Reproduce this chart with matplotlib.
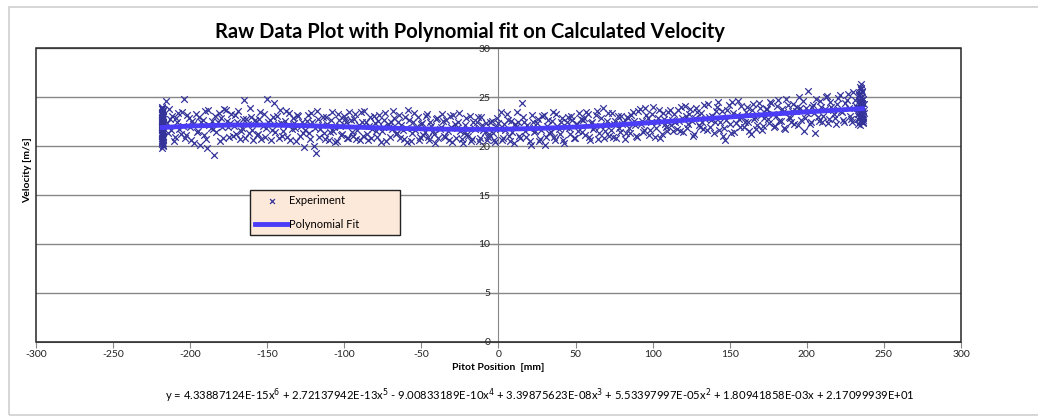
import matplotlib
matplotlib.use("Agg")
import matplotlib.pyplot as plt
from matplotlib.patches import Rectangle

plt.rcParams['font.family'] = ['Lato', 'DejaVu Sans']
plt.rcParams['axes.unicode_minus'] = False

# measured points along the traverse, first pass (Pitot position mm, velocity m/s)
pos = [-216, -214.5, -213, -211.5, -210, -208.5, -207, -205.5, -204, -202.5,
       -201, -199.5, -198, -196.5, -195, -193.5, -192, -190.5, -189, -187.5,
       -186, -184.5, -183, -181.5, -180, -178.5, -177, -175.5, -174, -172.5,
       -171, -169.5, -168, -166.5, -165, -163.5, -162, -160.5, -159, -157.5,
       -156, -154.5, -153, -151.5, -150, -148.5, -147, -145.5, -144, -142.5,
       -141, -139.5, -138, -136.5, -135, -133.5, -132, -130.5, -129, -127.5,
       -126, -124.5, -123, -121.5, -120, -118.5, -117, -115.5, -114, -112.5,
       -111, -109.5, -108, -106.5, -105, -103.5, -102, -100.5, -99, -97.5,
       -96, -94.5, -93, -91.5, -90, -88.5, -87, -85.5, -84, -82.5,
       -81, -79.5, -78, -76.5, -75, -73.5, -72, -70.5, -69, -67.5,
       -66, -64.5, -63, -61.5, -60, -58.5, -57, -55.5, -54, -52.5,
       -51, -49.5, -48, -46.5, -45, -43.5, -42, -40.5, -39, -37.5,
       -36, -34.5, -33, -31.5, -30, -28.5, -27, -25.5, -24, -22.5,
       -21, -19.5, -18, -16.5, -15, -13.5, -12, -10.5, -9, -7.5,
       -6, -4.5, -3, -1.5, 0, 1.5, 3, 4.5, 6, 7.5,
       9, 10.5, 12, 13.5, 15, 16.5, 18, 19.5, 21, 22.5,
       24, 25.5, 27, 28.5, 30, 31.5, 33, 34.5, 36, 37.5,
       39, 40.5, 42, 43.5, 45, 46.5, 48, 49.5, 51, 52.5,
       54, 55.5, 57, 58.5, 60, 61.5, 63, 64.5, 66, 67.5,
       69, 70.5, 72, 73.5, 75, 76.5, 78, 79.5, 81, 82.5,
       84, 85.5, 87, 88.5, 90, 91.5, 93, 94.5, 96, 97.5,
       99, 100.5, 102, 103.5, 105, 106.5, 108, 109.5, 111, 112.5,
       114, 115.5, 117, 118.5, 120, 121.5, 123, 124.5, 126, 127.5,
       129, 130.5, 132, 133.5, 135, 136.5, 138, 139.5, 141, 142.5,
       144, 145.5, 147, 148.5, 150, 151.5, 153, 154.5, 156, 157.5,
       159, 160.5, 162, 163.5, 165, 166.5, 168, 169.5, 171, 172.5,
       174, 175.5, 177, 178.5, 180, 181.5, 183, 184.5, 186, 187.5,
       189, 190.5, 192, 193.5, 195, 196.5, 198, 199.5, 201, 202.5,
       204, 205.5, 207, 208.5, 210, 211.5, 213, 214.5, 216, 217.5,
       219, 220.5, 222, 223.5, 225, 226.5, 228, 229.5, 231, 232.5]
vel = [24.6, 21.3, 22.8, 23.1, 20.9, 22.4, 21.7, 23.5, 24.8, 21.1,
       22.9, 20.6, 22.2, 23.3, 21.5, 20.1, 22.7, 23.6, 19.8, 22.1,
       22.6, 19.1, 21.4, 23.4, 22.9, 20.8, 23.7, 21.9, 22.3, 21.0,
       23.2, 22.5, 20.7, 21.8, 24.7, 22.8, 21.3, 23.0, 20.6, 22.4,
       21.2, 23.5, 22.0, 20.9, 24.8, 22.7, 21.6, 24.4, 23.1, 20.8,
       22.3, 21.5, 23.6, 22.1, 20.6, 22.9, 21.8, 23.2, 21.0, 22.5,
       19.9, 22.6, 21.3, 23.4, 20.0, 19.3, 22.8, 21.7, 23.0, 20.7,
       22.2, 21.4, 23.5, 21.9, 20.5, 22.7, 21.1, 23.1, 22.4, 20.8,
       22.7, 21.0, 23.3, 21.6, 20.6, 22.4, 23.6, 21.2, 22.0, 20.8,
       23.1, 21.5, 22.6, 20.4, 21.9, 23.4, 22.2, 20.9, 21.7, 22.9,
       21.3, 23.2, 22.1, 20.7, 21.8, 23.7, 20.5, 22.5, 21.6, 23.0,
       20.9, 22.3, 21.4, 23.3, 20.6, 22.0, 21.2, 22.8, 20.8, 21.9,
       22.6, 20.9, 21.5, 23.1, 20.4, 22.2, 21.8, 23.4, 20.7, 21.3,
       22.9, 21.0, 20.5, 22.4, 21.7, 23.0, 20.8, 22.1, 21.4, 20.6,
       21.2, 22.6, 20.6, 21.9, 22.3, 23.5, 20.8, 21.6, 22.7, 20.5,
       21.4, 22.2, 23.5, 21.0, 24.4, 22.5, 20.9, 21.8, 20.1, 22.4,
       21.5, 22.8, 20.7, 23.1, 20.1, 22.0, 21.3, 22.6, 20.9, 23.3,
       21.7, 22.4, 20.6, 21.9, 23.0, 21.2, 22.7, 20.8, 22.2, 23.4,
       21.4, 22.9, 23.5, 20.9, 22.3, 21.7, 23.2, 20.7, 22.0, 23.9,
       21.5, 22.6, 21.0, 23.4, 22.2, 20.8, 21.8, 23.1, 22.5, 21.3,
       22.9, 21.3, 23.5, 22.1, 20.9, 23.8, 22.6, 21.6, 23.2, 21.1,
       22.4, 24.0, 21.8, 22.9, 20.8, 23.4, 22.2, 21.5, 23.7, 22.7,
       23.3, 21.7, 22.6, 24.0, 21.4, 23.1, 22.2, 23.8, 21.0, 22.9,
       23.5, 21.9, 22.4, 24.2, 21.6, 23.0, 22.7, 21.3, 23.6, 24.5,
       22.5, 21.0, 20.6, 23.7, 22.2, 24.5, 21.4, 23.2, 22.8, 24.1,
       21.9, 23.5, 22.4, 21.2, 24.3, 23.0, 22.1, 23.9, 21.6, 22.9,
       23.8, 22.3, 24.4, 21.9, 23.1, 24.7, 22.6, 23.5, 21.7, 24.2,
       22.9, 23.6, 22.2, 24.0, 25.0, 22.7, 21.5, 23.9, 25.6, 22.4,
       24.2, 21.3, 23.0, 24.6, 22.5, 23.8, 25.1, 22.8, 24.0, 23.3,
       22.2, 24.9, 23.6, 22.7, 24.4, 25.3, 23.1, 22.4, 24.7, 23.9]

# second pass (return traverse)
pos2 = [-215.25, -213.75, -212.25, -210.75, -209.25, -207.75, -206.25, -204.75, -203.25, -201.75,
        -200.25, -198.75, -197.25, -195.75, -194.25, -192.75, -191.25, -189.75, -188.25, -186.75,
        -185.25, -183.75, -182.25, -180.75, -179.25, -177.75, -176.25, -174.75, -173.25, -171.75,
        -170.25, -168.75, -167.25, -165.75, -164.25, -162.75, -161.25, -159.75, -158.25, -156.75,
        -155.25, -153.75, -152.25, -150.75, -149.25, -147.75, -146.25, -144.75, -143.25, -141.75,
        -140.25, -138.75, -137.25, -135.75, -134.25, -132.75, -131.25, -129.75, -128.25, -126.75,
        -125.25, -123.75, -122.25, -120.75, -119.25, -117.75, -116.25, -114.75, -113.25, -111.75,
        -110.25, -108.75, -107.25, -105.75, -104.25, -102.75, -101.25, -99.75, -98.25, -96.75,
        -95.25, -93.75, -92.25, -90.75, -89.25, -87.75, -86.25, -84.75, -83.25, -81.75,
        -80.25, -78.75, -77.25, -75.75, -74.25, -72.75, -71.25, -69.75, -68.25, -66.75,
        -65.25, -63.75, -62.25, -60.75, -59.25, -57.75, -56.25, -54.75, -53.25, -51.75,
        -50.25, -48.75, -47.25, -45.75, -44.25, -42.75, -41.25, -39.75, -38.25, -36.75,
        -35.25, -33.75, -32.25, -30.75, -29.25, -27.75, -26.25, -24.75, -23.25, -21.75,
        -20.25, -18.75, -17.25, -15.75, -14.25, -12.75, -11.25, -9.75, -8.25, -6.75,
        -5.25, -3.75, -2.25, -0.75, 0.75, 2.25, 3.75, 5.25, 6.75, 8.25,
        9.75, 11.25, 12.75, 14.25, 15.75, 17.25, 18.75, 20.25, 21.75, 23.25,
        24.75, 26.25, 27.75, 29.25, 30.75, 32.25, 33.75, 35.25, 36.75, 38.25,
        39.75, 41.25, 42.75, 44.25, 45.75, 47.25, 48.75, 50.25, 51.75, 53.25,
        54.75, 56.25, 57.75, 59.25, 60.75, 62.25, 63.75, 65.25, 66.75, 68.25,
        69.75, 71.25, 72.75, 74.25, 75.75, 77.25, 78.75, 80.25, 81.75, 83.25,
        84.75, 86.25, 87.75, 89.25, 90.75, 92.25, 93.75, 95.25, 96.75, 98.25,
        99.75, 101.25, 102.75, 104.25, 105.75, 107.25, 108.75, 110.25, 111.75, 113.25,
        114.75, 116.25, 117.75, 119.25, 120.75, 122.25, 123.75, 125.25, 126.75, 128.25,
        129.75, 131.25, 132.75, 134.25, 135.75, 137.25, 138.75, 140.25, 141.75, 143.25,
        144.75, 146.25, 147.75, 149.25, 150.75, 152.25, 153.75, 155.25, 156.75, 158.25,
        159.75, 161.25, 162.75, 164.25, 165.75, 167.25, 168.75, 170.25, 171.75, 173.25,
        174.75, 176.25, 177.75, 179.25, 180.75, 182.25, 183.75, 185.25, 186.75, 188.25,
        189.75, 191.25, 192.75, 194.25, 195.75, 197.25, 198.75, 200.25, 201.75, 203.25,
        204.75, 206.25, 207.75, 209.25, 210.75, 212.25, 213.75, 215.25, 216.75, 218.25,
        219.75, 221.25, 222.75, 224.25, 225.75, 227.25, 228.75, 230.25, 231.75, 233.25]
vel2 = [22.3, 23.8, 21.6, 20.5, 22.9, 23.4, 21.2, 22.0, 20.8, 23.2,
        21.9, 22.6, 20.3, 21.4, 23.0, 22.5, 21.1, 20.7, 23.7, 21.8,
        21.7, 23.1, 22.4, 20.5, 21.9, 23.8, 22.6, 20.9, 23.3, 22.0,
        21.2, 23.6, 21.5, 22.8, 20.8, 22.2, 23.9, 21.6, 22.7, 21.1,
        22.8, 20.7, 23.3, 21.8, 22.5, 20.6, 23.0, 21.4, 22.2, 23.7,
        21.0, 22.6, 20.9, 23.4, 21.7, 22.3, 20.5, 23.1, 22.0, 21.3,
        21.6, 23.2, 20.7, 22.5, 21.8, 23.6, 20.9, 22.1, 21.3, 23.0,
        20.6, 22.7, 21.5, 20.4, 23.3, 22.0, 21.2, 22.8, 20.8, 23.5,
        21.4, 22.8, 20.7, 22.1, 23.5, 21.0, 22.5, 20.6, 23.0, 21.7,
        22.3, 20.9, 23.2, 21.5, 22.7, 20.5, 21.9, 22.4, 23.6, 21.2,
        22.4, 20.8, 21.6, 23.0, 20.4, 22.7, 21.3, 23.4, 21.9, 20.6,
        22.2, 21.1, 23.1, 20.9, 22.5, 21.5, 20.3, 22.9, 21.7, 23.3,
        21.0, 22.7, 20.6, 21.9, 23.2, 20.8, 22.4, 21.5, 20.3, 22.1,
        21.2, 23.1, 20.7, 21.8, 22.5, 20.5, 23.0, 21.6, 22.3, 20.9,
        22.5, 21.3, 20.4, 22.9, 21.7, 20.6, 22.2, 23.3, 21.0, 22.6,
        20.3, 21.9, 22.4, 20.8, 23.0, 21.5, 22.1, 20.5, 23.2, 21.4,
        22.3, 20.5, 21.6, 23.2, 20.9, 22.7, 21.4, 23.5, 20.6, 22.0,
        21.2, 22.9, 20.3, 22.5, 21.8, 23.1, 20.8, 22.2, 21.5, 22.8,
        22.7, 21.1, 23.3, 20.6, 22.4, 21.9, 23.6, 21.3, 22.9, 20.8,
        22.1, 23.4, 21.6, 20.9, 22.6, 23.1, 21.4, 22.2, 20.7, 23.0,
        21.8, 23.2, 22.6, 21.0, 23.6, 22.2, 21.4, 23.9, 22.9, 21.6,
        23.3, 20.9, 22.5, 23.7, 21.2, 22.8, 21.9, 23.5, 22.1, 21.5,
        22.4, 23.7, 21.5, 22.9, 24.1, 21.8, 23.3, 22.6, 21.2, 23.9,
        22.1, 23.4, 21.7, 22.8, 24.3, 21.9, 23.1, 22.5, 24.0, 21.6,
        23.6, 21.8, 22.7, 24.2, 21.3, 23.4, 22.3, 24.6, 21.9, 23.0,
        22.5, 24.0, 21.5, 23.7, 22.8, 21.7, 24.4, 23.2, 22.0, 23.8,
        22.8, 24.5, 23.3, 22.0, 24.1, 22.6, 23.8, 21.8, 24.8, 23.0,
        22.4, 24.3, 23.6, 22.1, 23.9, 24.6, 22.9, 23.4, 22.2, 24.0,
        23.4, 24.8, 22.6, 24.0, 23.1, 25.0, 22.3, 24.5, 23.7, 22.9,
        24.3, 25.2, 23.5, 22.5, 24.7, 23.9, 22.8, 25.5, 24.1, 23.3]

# stacked readings at the two ends of the traverse
left_pos = [-218.2, -217.9, -218.0, -218.3, -217.8, -218.1, -218.0, -217.9, -218.2, -218.0,
            -218.1, -217.8, -218.3, -218.0, -217.9, -218.2, -218.1, -218.0, -217.8, -218.2,
            -218.0, -218.1, -217.9, -218.3, -218.0, -218.2, -217.8, -218.1, -218.0, -217.9,
            -217.7, -218.4, -218.0, -217.6, -218.2, -217.9, -218.1, -217.7, -218.3, -218.0,
            -217.8, -218.1, -218.0, -217.9, -218.2, -218.4, -217.7, -218.0, -218.1, -217.9]
left_vel = [19.8, 20.1, 20.4, 20.6, 20.9, 21.1, 21.3, 21.5, 21.7, 21.9,
            22.0, 22.2, 22.4, 22.6, 22.8, 23.0, 23.2, 23.4, 23.6, 23.8,
            24.0, 20.2, 20.7, 21.2, 21.6, 22.1, 22.5, 22.9, 23.3, 23.7,
            20.0, 20.5, 21.0, 21.4, 21.8, 22.3, 22.7, 23.1, 23.5, 23.9,
            20.3, 20.8, 21.3, 21.8, 22.2, 22.6, 23.0, 23.4, 22.0, 21.0]
right_pos = [234.8, 235.6, 236.2, 234.1, 235.0, 236.8, 233.6, 235.3, 236.0, 234.5,
             235.8, 234.0, 236.5, 235.1, 233.9, 235.5, 234.6, 235.2, 236.3, 234.3,
             235.9, 233.5, 236.1, 234.9, 235.4, 234.2, 236.6, 235.7, 234.7, 233.2,
             236.4, 234.4, 235.0, 233.8, 236.9, 235.6, 234.1, 236.0, 235.2, 233.4,
             234.8, 236.7, 235.3, 234.6, 236.2, 233.7, 235.8, 234.9, 236.5, 235.1]
right_vel = [22.1, 22.4, 22.7, 23.0, 23.2, 23.4, 23.6, 23.8, 24.0, 24.2,
             24.4, 24.6, 24.8, 25.0, 25.3, 25.6, 26.0, 26.3, 22.5, 22.9,
             23.3, 23.7, 24.1, 24.5, 24.9, 25.4, 23.1, 23.9, 24.3, 22.8,
             22.3, 22.6, 23.5, 23.9, 24.3, 24.7, 25.1, 25.5, 25.8, 22.2,
             23.0, 23.6, 24.0, 24.4, 24.8, 25.2, 23.3, 24.6, 22.9, 25.9]

# 6th order trend line values
fit_pos = [-218, -200, -175, -150, -125, -100, -75, -50, -25, 0,
           25, 50, 75, 100, 125, 150, 175, 200, 218, 236]
fit_vel = [21.89, 22.04, 22.14, 22.14, 22.07, 21.96, 21.84, 21.75, 21.70, 21.71,
           21.79, 21.94, 22.14, 22.40, 22.67, 22.96, 23.23, 23.48, 23.65, 23.82]

equation = ("y = 4.33887124E-15x$^6$ + 2.72137942E-13x$^5$ - 9.00833189E-10x$^4$ + "
            "3.39875623E-08x$^3$ + 5.53397997E-05x$^2$ + 1.80941858E-03x + 2.17099939E+01")

fig = plt.figure(figsize=(10.38, 4.19), dpi=100)
ax = fig.add_axes([0.0347, 0.1838, 0.8911, 0.7016])

# light grey chart frame
fig.patches.append(Rectangle((9 / 1038, 4 / 419), 1.2, 1 - 11 / 419, transform=fig.transFigure,
                             fill=False, edgecolor='#d0d0d0', lw=1.2))

ax.scatter(pos + pos2 + left_pos + right_pos, vel + vel2 + left_vel + right_vel,
           marker='x', s=22, linewidths=0.9, color='#333399', label='Experiment', zorder=3)
ax.plot(fit_pos, fit_vel, color='#4a3cf7', lw=3.5, label='Polynomial Fit', zorder=4)

ax.set_xlim(-300, 300)
ax.set_ylim(0, 30)
ax.set_xticks(range(-300, 301, 50))
ax.set_yticks(range(0, 31, 5))
ax.yaxis.grid(True, color='#878787', lw=1)
ax.set_axisbelow(True)

# y axis crosses at x = 0 like in Excel
ax.spines['left'].set_position(('data', 0))
ax.spines['left'].set_color('#878787')
ax.spines['right'].set_visible(False)
ax.spines['top'].set_visible(False)
ax.spines['bottom'].set_color('#878787')
ax.add_patch(Rectangle((0, 0), 1, 1, transform=ax.transAxes, fill=False,
                       edgecolor='#262626', lw=1.1, clip_on=False, zorder=5))
ax.tick_params(axis='both', direction='out', length=4, color='#878787',
               labelsize=7.5, labelcolor='#222222', pad=2)

ax.set_xlabel('Pitot Position  [mm]', fontsize=7.5, fontweight='bold', labelpad=3)
fig.text(28 / 1038, 1 - 170 / 419, 'Velocity [m/s]', rotation=90, fontsize=7.5,
         fontweight='bold', ha='center', va='center')
fig.text(470 / 1038, 1 - 32 / 419, 'Raw Data Plot with Polynomial fit on Calculated Velocity',
         fontsize=14.5, fontweight='bold', ha='center', va='center')
fig.text(540 / 1038, 1 - 396 / 419, equation, fontsize=8.1, ha='center', va='center')

leg = ax.legend(loc='upper left', bbox_to_anchor=(250 / 1038, 1 - 237 / 419, 150 / 1038, 47 / 419),
                bbox_transform=fig.transFigure, mode='expand', borderaxespad=0,
                fontsize=8, fancybox=False, frameon=True, handlelength=3.0,
                handletextpad=0.1, borderpad=0.45, labelspacing=1.2, markerscale=0.75)
leg.get_frame().set_facecolor('#fde9d9')
leg.get_frame().set_edgecolor('#222222')
leg.get_frame().set_alpha(1)

fig.savefig('out.png', dpi=100)
